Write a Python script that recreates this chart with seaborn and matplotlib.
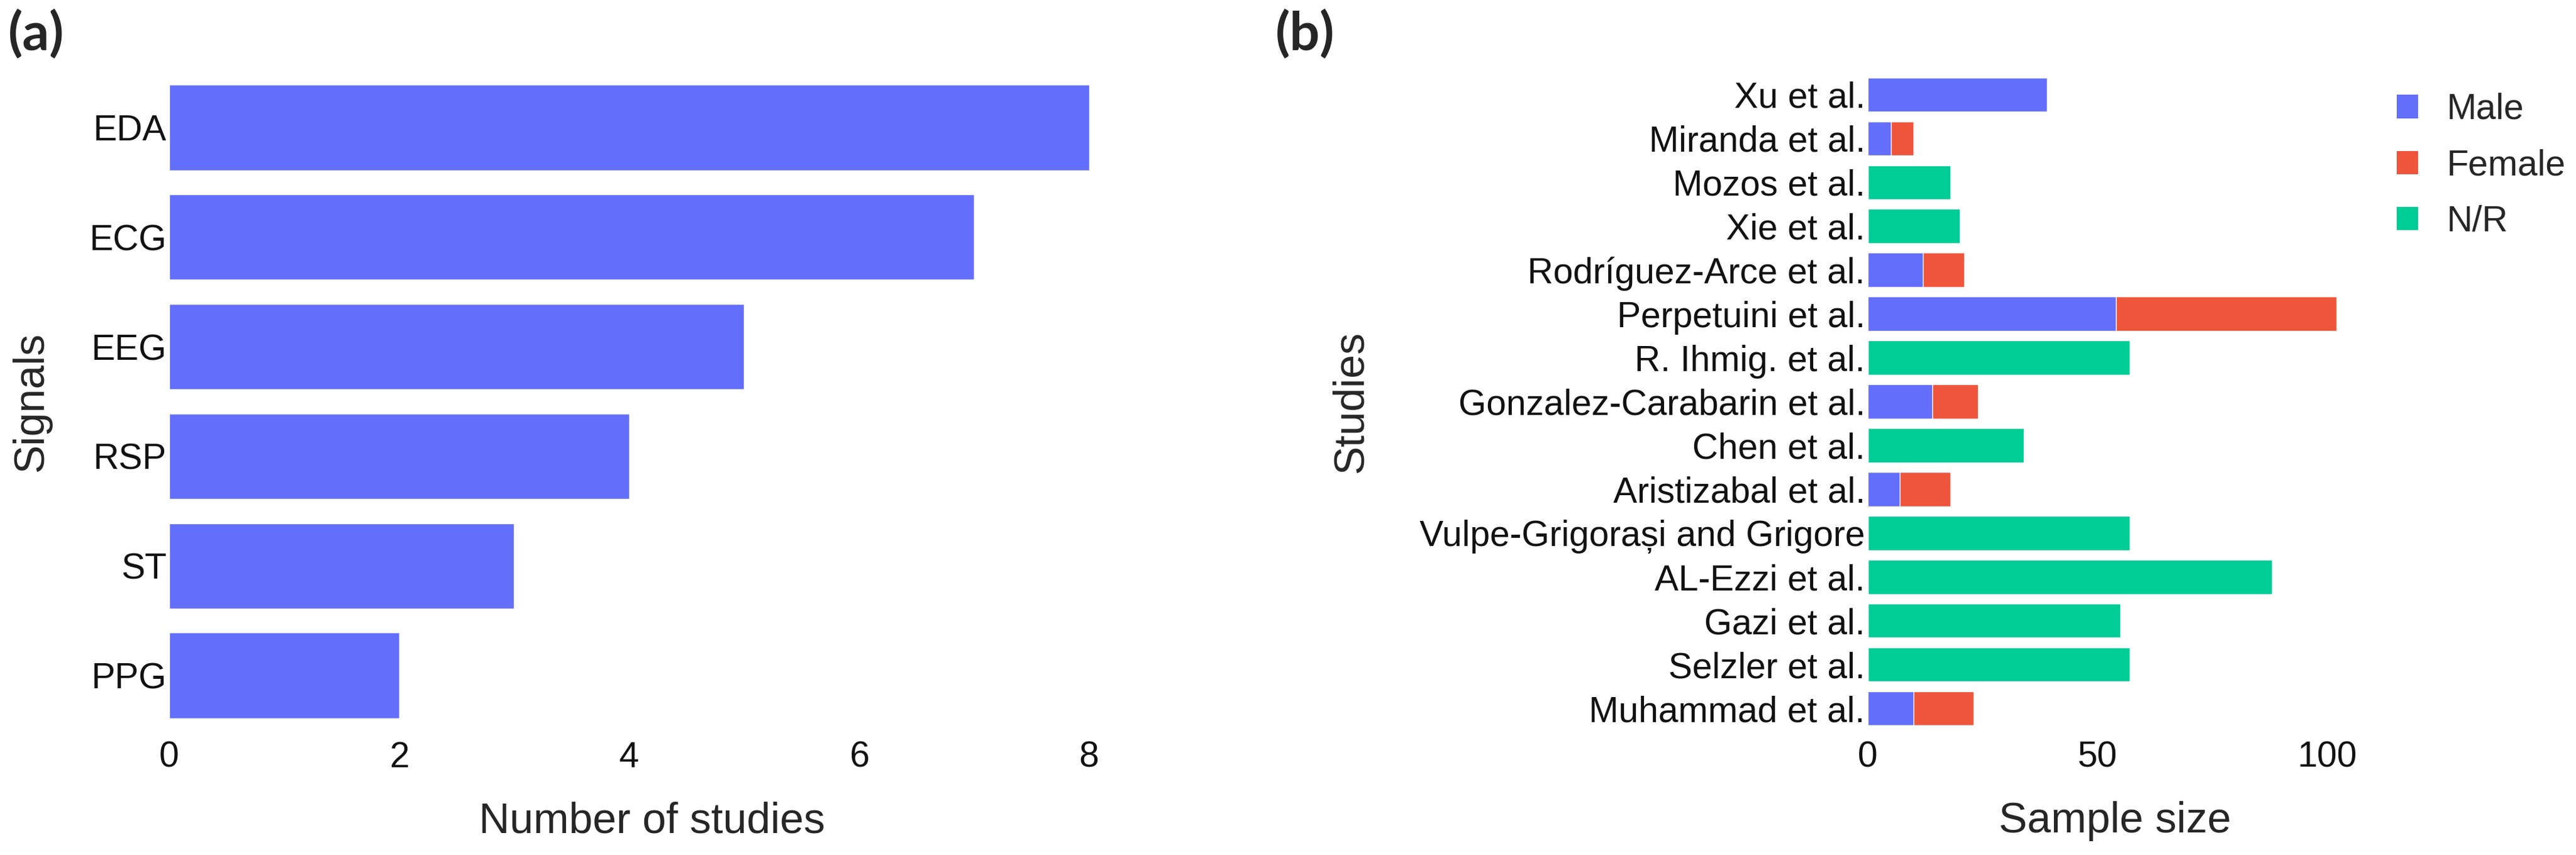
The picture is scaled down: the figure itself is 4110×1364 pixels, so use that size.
import matplotlib as mpl
mpl.use("Agg")
import matplotlib.pyplot as plt
from matplotlib.patches import Patch
import seaborn as sns
import pandas as pd

# panel (a)
signals = ['EDA', 'ECG', 'EEG', 'RSP', 'ST', 'PPG']
n_studies = [8, 7, 5, 4, 3, 2]

# panel (b)
studies = ['Xu et al.', 'Miranda et al.', 'Mozos et al.', 'Xie et al.',
           'Rodríguez-Arce et al.', 'Perpetuini et al.', 'R. Ihmig. et al.',
           'Gonzalez-Carabarin et al.', 'Chen et al.', 'Aristizabal et al.',
           'Vulpe-Grigorași and Grigore', 'AL-Ezzi et al.', 'Gazi et al.',
           'Selzler et al.', 'Muhammad et al.']
male = [39, 5, 0, 0, 12, 54, 0, 14, 0, 7, 0, 0, 0, 0, 10]
female = [0, 5, 0, 0, 9, 48, 0, 10, 0, 11, 0, 0, 0, 0, 13]
not_reported = [0, 0, 18, 20, 0, 0, 57, 0, 34, 0, 57, 88, 55, 57, 0]

colors = {'Male': '#636EFA', 'Female': '#EF553B', 'N/R': '#00CC96'}

sns.set_style('white')
plt.rcParams['font.family'] = ['Liberation Sans', 'DejaVu Sans']

dfa = pd.DataFrame({'signal': signals, 'count': n_studies})
dfb = pd.DataFrame({'study': studies, 'male': male, 'female': female, 'nr': not_reported})
dfb['male_female'] = dfb['male'] + dfb['female']

W, H = 4110, 1364
fig = plt.figure(figsize=(W / 100, H / 100), dpi=100)

ax_top = 1 - 116 / H
ax_bot = 1 - 1165 / H
ax1 = fig.add_axes([270 / W, ax_bot, (1811 - 270) / W, ax_top - ax_bot])
ax2 = fig.add_axes([2980 / W, ax_bot, (3768 - 2980) / W, ax_top - ax_bot])

tick_fs = 41
label_fs = 49

# (a) number of studies per signal
sns.barplot(data=dfa, x='count', y='signal', order=signals, color=colors['Male'],
            saturation=1, width=0.78, errorbar=None, ax=ax1)
ax1.set_xlim(0, 8.4)
ax1.set_xticks([0, 2, 4, 6, 8])
ax1.set_xlabel('Number of studies', fontsize=label_fs)
ax1.set_ylabel('Signals', fontsize=label_fs)

# (b) sample size, stacked by sex
sns.barplot(data=dfb, x='nr', y='study', order=studies, color=colors['N/R'],
            saturation=1, width=0.78, errorbar=None, ax=ax2)
sns.barplot(data=dfb, x='male_female', y='study', order=studies, color=colors['Female'],
            saturation=1, width=0.78, errorbar=None, ax=ax2)
sns.barplot(data=dfb, x='male', y='study', order=studies, color=colors['Male'],
            saturation=1, width=0.78, errorbar=None, ax=ax2)
ax2.set_xlim(0, 107.5)
ax2.set_xticks([0, 50, 100])
ax2.set_xlabel('Sample size', fontsize=label_fs)
ax2.set_ylabel('Studies', fontsize=label_fs)

for ax in (ax1, ax2):
    sns.despine(ax=ax, left=True, bottom=True)
    ax.tick_params(axis='x', length=0, pad=12, labelsize=tick_fs, colors='#111111')
    ax.tick_params(axis='y', length=0, pad=3, labelsize=tick_fs, colors='#111111')
    ax.xaxis.set_label_coords(0.5, -0.108)

ax1.yaxis.set_label_coords(-0.122, 0.5)
ax2.yaxis.set_label_coords(-1.006, 0.5)

handles = [Patch(facecolor=colors[k], edgecolor='none', label=k) for k in ['Male', 'Female', 'N/R']]
fig.legend(handles=handles, loc='upper left', bbox_to_anchor=(3824 / W, 1 - 148 / H),
           frameon=False, fontsize=tick_fs, handlelength=0.6, handleheight=0.63,
           handletextpad=0.8, labelspacing=0.62, borderpad=0, borderaxespad=0)

fig.text(13 / W, 1 - 14 / H, '(a)', fontsize=61, fontweight='bold', family='Lato', va='top', ha='left')
fig.text(2035 / W, 1 - 14 / H, '(b)', fontsize=61, fontweight='bold', family='Lato', va='top', ha='left')

fig.savefig('out.png', dpi=100)
